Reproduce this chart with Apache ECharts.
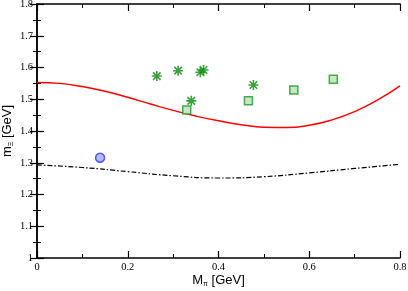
<!DOCTYPE html>
<html><head><meta charset="utf-8">
<script src="https://cdn.jsdelivr.net/npm/echarts@6/dist/echarts.min.js"></script>
<style>html,body{margin:0;padding:0;background:#fff}#c{width:408px;height:291px}</style>
</head><body><div id="c"></div>
<script>
var curveX = [0, 0.05, 0.1, 0.15, 0.2, 0.25, 0.3, 0.35, 0.4, 0.45, 0.5, 0.55, 0.6, 0.65, 0.7, 0.75, 0.8];
var redY = [1.553, 1.550, 1.540, 1.525, 1.506, 1.485, 1.465, 1.447, 1.432, 1.420, 1.412, 1.411, 1.418, 1.435, 1.461, 1.497, 1.542];
var blackX = [0, 0.1, 0.2, 0.3, 0.4, 0.5, 0.6, 0.7, 0.8];
var blackY = [1.293, 1.285, 1.272, 1.259, 1.252, 1.256, 1.268, 1.282, 1.295];
var starX = [0.264, 0.311, 0.360, 0.367, 0.340, 0.477];
var starY = [1.573, 1.590, 1.585, 1.592, 1.495, 1.545];
var squareX = [0.330, 0.466, 0.566, 0.653];
var squareY = [1.466, 1.495, 1.529, 1.563];
var circleX = [0.139];
var circleY = [1.316];
var xTicks = [0, 0.2, 0.4, 0.6, 0.8];
var yTicks = [1, 1.1, 1.2, 1.3, 1.4, 1.5, 1.6, 1.7, 1.8];

function zip(a, b) { return a.map(function (v, i) { return [v, b[i]]; }); }
var star = 'path://M0,-10L0,10M-10,0L10,0M-7.5,-7.5L7.5,7.5M-7.5,7.5L7.5,-7.5';
var serif = '"Liberation Serif", "DejaVu Serif", serif';
var sans = '"Liberation Sans", Arial, sans-serif';
var axLine = {show: true, lineStyle: {color: '#000', width: 1.5}};
var tick = {show: true, inside: true, length: 7, lineStyle: {color: '#000', width: 1.2}};
var minor = {show: true, splitNumber: 2, length: 4, lineStyle: {color: '#000', width: 1}};
var nameRich = {
  a: {fontFamily: sans, fontSize: 13, color: '#000'},
  s: {fontFamily: sans, fontSize: 7, color: '#000', verticalAlign: 'bottom', padding: [8, 0, 0, 0]}
};

var chart = echarts.init(document.getElementById('c'));
chart.setOption({
  animation: false,
  backgroundColor: '#fff',
  grid: {left: 37, right: 8, top: 4, bottom: 33, containLabel: false, outerBoundsMode: 'none'},
  xAxis: [{
    type: 'value', min: 0, max: 0.8, interval: 0.2, position: 'bottom',
    axisLine: axLine, axisTick: tick, minorTick: minor, splitLine: {show: false},
    axisLabel: {fontFamily: serif, fontSize: 10.5, color: '#000', margin: 4,
      formatter: function (v) { return xTicks.indexOf(+v.toFixed(2)) >= 0 ? String(+v.toFixed(2)) : ''; }},
    name: '{a|M}{s|π}{a| [GeV]}', nameLocation: 'middle', nameGap: 15, nameMoveOverlap: false,
    nameTextStyle: {rich: nameRich}
  }, {
    type: 'value', min: 0, max: 0.8, interval: 0.2, position: 'top',
    axisLine: axLine, axisTick: tick, minorTick: minor, splitLine: {show: false},
    axisLabel: {show: false}
  }],
  yAxis: [{
    type: 'value', min: 1, max: 1.8, interval: 0.1, position: 'left',
    axisLine: axLine, axisTick: tick, minorTick: minor, splitLine: {show: false},
    axisLabel: {fontFamily: serif, fontSize: 10.5, color: '#000', margin: 4,
      formatter: function (v) { return String(+v.toFixed(2)); }},
    name: '{a|m}{s|Ξ}{a| [GeV]}', nameLocation: 'middle', nameGap: 22, nameRotate: 90, nameMoveOverlap: false,
    nameTextStyle: {rich: nameRich}
  }, {
    type: 'value', min: 1, max: 1.8, interval: 0.1, position: 'right',
    axisLine: axLine, axisTick: tick, minorTick: minor, splitLine: {show: false},
    axisLabel: {show: false}
  }],
  series: [
    {type: 'line', data: zip(curveX, redY), smooth: true, symbol: 'none',
     lineStyle: {color: '#ff0000', width: 1.5}, z: 2},
    {type: 'line', data: zip(blackX, blackY), smooth: true, symbol: 'none',
     lineStyle: {color: '#000', width: 1.2, type: [5, 2, 1.5, 2]}, z: 2},
    {type: 'scatter', data: zip(starX, starY), symbol: star, symbolSize: 10,
     itemStyle: {color: 'none', borderColor: '#0a8a0a', borderWidth: 1.6}, z: 3},
    {type: 'scatter', data: zip(squareX, squareY), symbol: 'rect', symbolSize: 8,
     itemStyle: {color: '#b9e0b9', borderColor: '#1f9a1f', borderWidth: 1.5}, z: 3},
    {type: 'scatter', data: zip(circleX, circleY), symbol: 'circle', symbolSize: 9,
     itemStyle: {color: '#a8a8ff', borderColor: '#1f3cff', borderWidth: 1.5}, z: 3}
  ]
});
</script></body></html>
